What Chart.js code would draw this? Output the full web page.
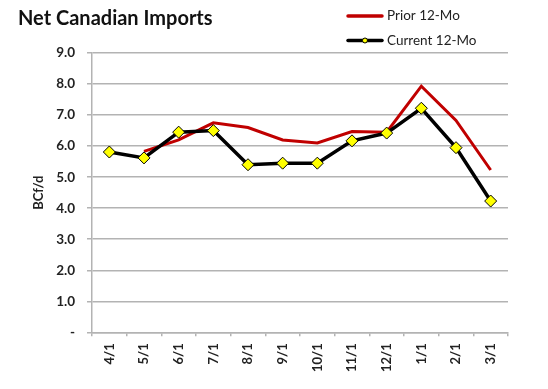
<!DOCTYPE html>
<html lang="en">
<head>
<title>Net Canadian Imports</title>
<style>
  body { margin: 0; background: #fff; }
</style>
</head>
<body>
<canvas id="chart" width="548" height="389"></canvas>

<script src="https://cdn.jsdelivr.net/npm/chart.js"></script>
<script>
// values (Bcf/d)
const months = ["4/1", "5/1", "6/1", "7/1", "8/1", "9/1", "10/1", "11/1", "12/1", "1/1", "2/1", "3/1"];
const priorValues = [null, 5.83, 6.2, 6.75, 6.6, 6.2, 6.1, 6.47, 6.45, 7.93, 6.83, 5.23];
const currentValues = [5.81, 5.62, 6.45, 6.5, 5.4, 5.45, 5.45, 6.17, 6.42, 7.22, 5.95, 4.23];
const yTicks = [0, 1, 2, 3, 4, 5, 6, 7, 8, 9];

const FONT = "Lato, 'Open Sans', sans-serif";
const GRID = "#b3b3b3";

// legend stacked in the top right corner like the original
const stackedLegend = {
    id: "stackedLegend",
    afterDraw(chart) {
        const ctx = chart.ctx;
        ctx.save();
        chart.data.datasets.forEach(function (ds, i) {
            const y = 16 + i * 24.5;
            ctx.strokeStyle = ds.borderColor;
            ctx.lineWidth = 3.5;
            ctx.lineCap = "round";
            ctx.beginPath();
            ctx.moveTo(348, y);
            ctx.lineTo(382, y);
            ctx.stroke();
            if (ds.pointRadius > 0) {
                ctx.fillStyle = ds.pointBackgroundColor;
                ctx.strokeStyle = ds.pointBorderColor;
                ctx.lineWidth = 1;
                ctx.beginPath();
                ctx.arc(365, y, 2.5, 0, Math.PI * 2);
                ctx.fill();
                ctx.stroke();
            }
            ctx.fillStyle = "#222";
            ctx.font = "13.5px " + FONT;
            ctx.textBaseline = "middle";
            ctx.textAlign = "left";
            ctx.fillText(ds.label, 387, y);
        });
        ctx.restore();
    }
};

new Chart(document.getElementById("chart"), {
    type: "line",
    data: {
        labels: months,
        datasets: [{
            label: "Prior 12-Mo",
            data: priorValues,
            borderColor: "#c00000",
            borderWidth: 3,
            pointRadius: 0,
            tension: 0,
            order: 2
        }, {
            label: "Current 12-Mo",
            data: currentValues,
            borderColor: "#000000",
            borderWidth: 3.5,
            pointStyle: "rectRot",
            pointRadius: 6,
            pointBackgroundColor: "#ffff00",
            pointBorderColor: "#000000",
            pointBorderWidth: 1,
            tension: 0,
            order: 1
        }]
    },
    options: {
        responsive: false,
        animation: false,
        layout: { padding: { left: 18, right: 40, top: 0, bottom: 10 } },
        plugins: {
            legend: { display: false },
            tooltip: { enabled: false },
            title: {
                display: true,
                text: "Net Canadian Imports",
                align: "start",
                color: "#111",
                font: { family: FONT, size: 20, weight: "bold" },
                padding: { top: 7, bottom: 22 }
            }
        },
        scales: {
            x: {
                offset: true,
                grid: {
                    offset: true,
                    drawOnChartArea: false,
                    drawTicks: true,
                    tickLength: 4,
                    color: GRID,
                    lineWidth: 1.5
                },
                border: { color: GRID, width: 1.5 },
                ticks: {
                    minRotation: 90,
                    maxRotation: 90,
                    padding: 7,
                    color: "#222",
                    font: { family: FONT, size: 13, weight: "bold" }
                }
            },
            y: {
                min: 0,
                max: 9,
                afterBuildTicks: function (scale) {
                    scale.ticks = yTicks.map(function (v) { return { value: v }; });
                },
                afterFit: function (scale) {
                    scale.width = 74;
                },
                grid: {
                    color: GRID,
                    lineWidth: 1.5,
                    tickLength: 5
                },
                border: { color: GRID, width: 1.5 },
                ticks: {
                    padding: 12,
                    color: "#222",
                    font: { family: FONT, size: 13.5, weight: "bold" },
                    callback: function (v) { return v === 0 ? "-" : v.toFixed(1); }
                },
                title: {
                    display: true,
                    text: "BCf/d",
                    color: "#222",
                    font: { family: FONT, size: 13, weight: "bold" },
                    padding: { top: 13, bottom: 9 }
                }
            }
        }
    },
    plugins: [stackedLegend]
});
</script>
</body>
</html>
